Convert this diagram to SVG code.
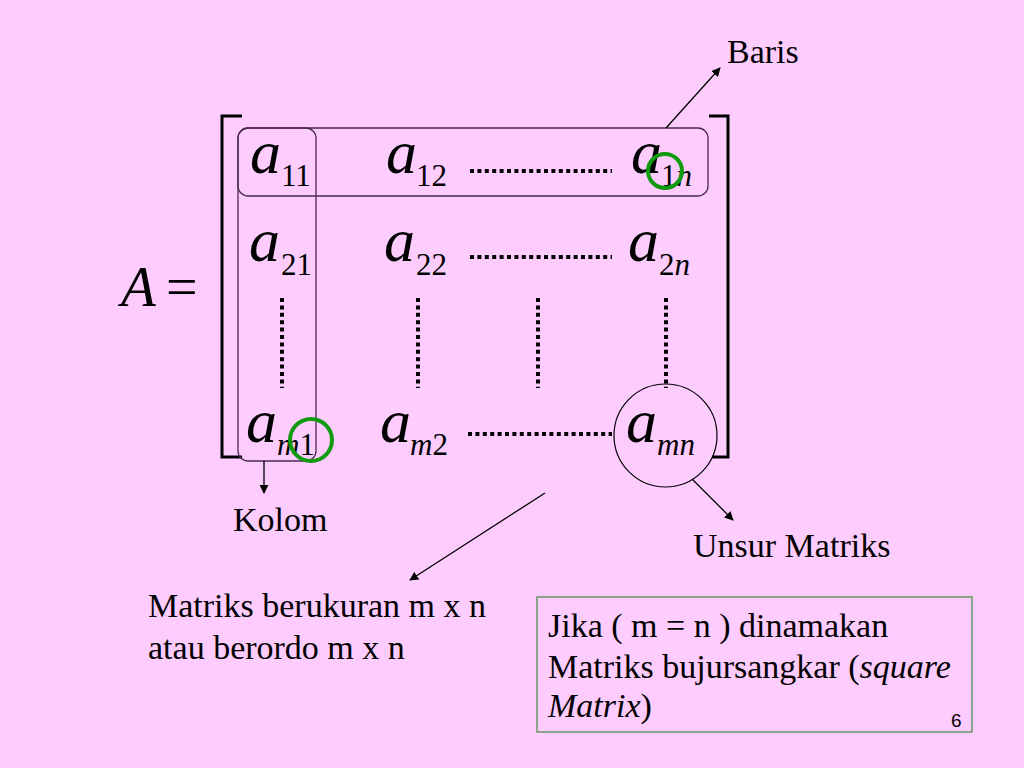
<svg xmlns="http://www.w3.org/2000/svg" width="1024" height="768" viewBox="0 0 1024 768">
<defs>
<marker id="ah" viewBox="0 0 10 10" refX="9" refY="5" markerWidth="9" markerHeight="9" markerUnits="userSpaceOnUse" orient="auto">
<path d="M0,0 L10,5 L0,10 z" fill="#000"/>
</marker>
<style>
.t{font-family:"Liberation Serif","Times New Roman",serif;font-size:34px;fill:#000}
.a{font-family:"Liberation Serif","Times New Roman",serif;font-style:italic;font-size:62px;fill:#000}
.s{font-size:31px;font-style:normal}
.si{font-style:italic}
.br{fill:none;stroke:#000;stroke-width:3}
.box{fill:none;stroke:#4a2a4a;stroke-width:1.3}
.hd{stroke:#000;stroke-width:4;stroke-dasharray:4 3.4}
.vd{stroke:#000;stroke-width:4;stroke-dasharray:4 3.4}
.gc{fill:none;stroke:#0f9a0f;stroke-width:4}
.ar{fill:none;stroke:#000;stroke-width:1.3;marker-end:url(#ah)}
</style>
</defs>
<rect width="1024" height="768" fill="#FFCCFF"/>

<g id="lhs">
<text x="121" y="306" class="a" style="font-size:57px">A<tspan x="166" y="306" style="font-style:normal;font-size:56px">=</tspan></text>
</g>

<g id="brackets">
<path class="br" d="M242,116 H222 V457 H242"/>
<path class="br" d="M709,116 H728 V457 H712"/>
</g>

<g id="row-box"><rect class="box" x="238" y="128" width="470" height="68" rx="10"/></g>
<g id="col-box"><rect class="box" x="238" y="128" width="78" height="333" rx="10"/></g>

<g id="row1">
<text x="250" y="173" class="a">a<tspan x="281" y="186" class="s">11</tspan></text>
<text x="386" y="173" class="a">a<tspan x="416" y="186" class="s">12</tspan></text>
<line class="hd" x1="470" y1="171" x2="612" y2="171"/>
<text x="631" y="173" class="a">a<tspan x="661" y="186" class="s">1<tspan class="si">n</tspan></tspan></text>
</g>

<g id="row2">
<text x="249" y="261" class="a">a<tspan x="281" y="275" class="s">21</tspan></text>
<text x="384" y="261" class="a">a<tspan x="416" y="275" class="s">22</tspan></text>
<line class="hd" x1="470" y1="257" x2="612" y2="257"/>
<text x="628" y="261" class="a">a<tspan x="659" y="275" class="s">2<tspan class="si">n</tspan></tspan></text>
</g>

<g id="vdots">
<line class="vd" x1="282" y1="298" x2="282" y2="388"/>
<line class="vd" x1="418" y1="298" x2="418" y2="388"/>
<line class="vd" x1="538" y1="298" x2="538" y2="388"/>
<line class="vd" x1="666" y1="298" x2="666" y2="388"/>
</g>

<g id="rowm">
<text x="246" y="442" class="a">a<tspan x="277" y="455" class="s"><tspan class="si">m</tspan>1</tspan></text>
<text x="380" y="442" class="a">a<tspan x="410" y="455" class="s"><tspan class="si">m</tspan>2</tspan></text>
<line class="hd" x1="468" y1="434" x2="612" y2="434"/>
<text x="626" y="442" class="a">a<tspan x="657" y="455" class="s si">mn</tspan></text>
</g>

<g id="circles">
<circle class="gc" cx="665" cy="171" r="17"/>
<circle class="gc" cx="311" cy="440" r="21"/>
<circle cx="665.5" cy="435.5" r="51.5" fill="none" stroke="#000" stroke-width="1.2"/>
</g>

<g id="connectors">
<line class="ar" x1="666" y1="128" x2="720" y2="68"/>
<line class="ar" x1="264" y1="461" x2="264" y2="493"/>
<line class="ar" x1="545" y1="493" x2="410" y2="580"/>
<line class="ar" x1="692" y1="479" x2="733" y2="520"/>
</g>

<g id="label-baris"><text x="727" y="63" class="t">Baris</text></g>
<g id="label-kolom"><text x="233" y="531" class="t">Kolom</text></g>
<g id="label-unsur"><text x="693" y="557" class="t">Unsur Matriks</text></g>
<g id="label-ukuran">
<text x="148" y="617" class="t">Matriks berukuran m x n</text>
<text x="148" y="659" class="t">atau berordo m x n</text>
</g>

<g id="note">
<rect x="537" y="597" width="435" height="135" fill="none" stroke="#4f8f4f" stroke-width="1.3"/>
<text x="548" y="637" class="t">Jika ( m = n ) dinamakan</text>
<text x="548" y="678" class="t">Matriks bujursangkar (<tspan class="si">square</tspan></text>
<text x="548" y="717" class="t"><tspan class="si">Matrix</tspan>)</text>
<text x="951" y="727" font-family="Liberation Sans, Arial, sans-serif" font-size="19" fill="#000">6</text>
</g>
</svg>
